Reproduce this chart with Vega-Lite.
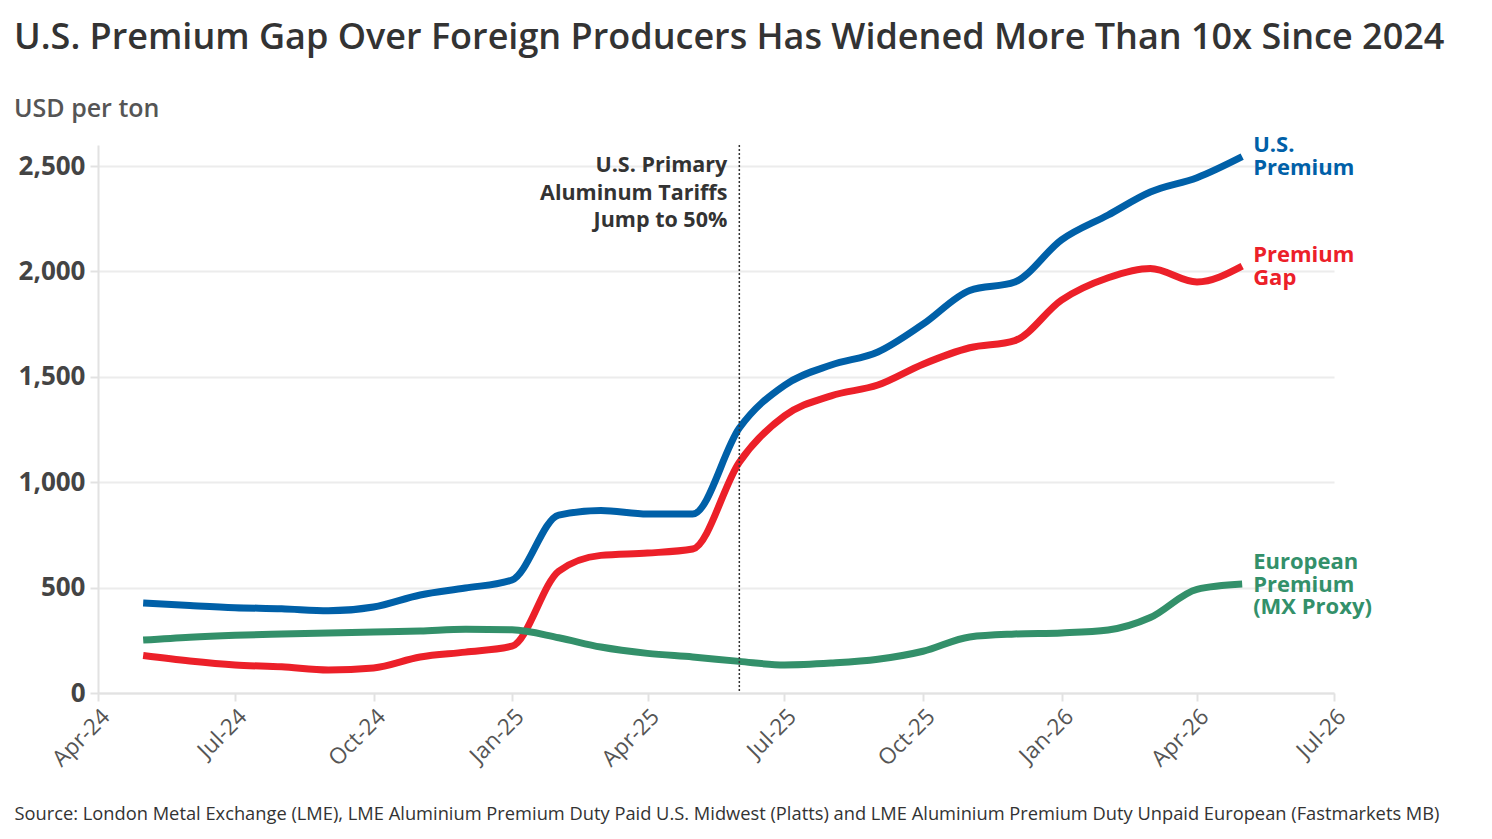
{
  "$schema": "https://vega.github.io/schema/vega-lite/v6.json",
  "autosize": "none",
  "width": 1236,
  "height": 548,
  "padding": {"left": 98, "top": 145, "right": 158, "bottom": 146},
  "background": "white",
  "config": {"view": {"stroke": null}},
  "title": {
    "text": "U.S. Premium Gap Over Foreign Producers Has Widened More Than 10x Since 2024",
    "subtitle": "USD per ton",
    "anchor": "start",
    "frame": "group",
    "dx": -84,
    "offset": 11,
    "font": "Open Sans",
    "fontSize": 36,
    "fontWeight": 600,
    "color": "#333333",
    "subtitleFont": "Open Sans",
    "subtitleFontSize": 25,
    "subtitleFontWeight": 600,
    "subtitleColor": "#555555",
    "subtitlePadding": 40
  },
  "datasets": {
    "prices": [
      {"month": "2024-05-01", "series": "U.S. Premium", "usd": 427},
      {"month": "2024-06-01", "series": "U.S. Premium", "usd": 415},
      {"month": "2024-07-01", "series": "U.S. Premium", "usd": 405},
      {"month": "2024-08-01", "series": "U.S. Premium", "usd": 400},
      {"month": "2024-09-01", "series": "U.S. Premium", "usd": 390},
      {"month": "2024-10-01", "series": "U.S. Premium", "usd": 408},
      {"month": "2024-11-01", "series": "U.S. Premium", "usd": 465},
      {"month": "2024-12-01", "series": "U.S. Premium", "usd": 498},
      {"month": "2025-01-01", "series": "U.S. Premium", "usd": 536},
      {"month": "2025-02-01", "series": "U.S. Premium", "usd": 844},
      {"month": "2025-03-01", "series": "U.S. Premium", "usd": 866},
      {"month": "2025-04-01", "series": "U.S. Premium", "usd": 849},
      {"month": "2025-05-01", "series": "U.S. Premium", "usd": 849},
      {"month": "2025-06-01", "series": "U.S. Premium", "usd": 1257},
      {"month": "2025-07-01", "series": "U.S. Premium", "usd": 1460},
      {"month": "2025-08-01", "series": "U.S. Premium", "usd": 1556},
      {"month": "2025-09-01", "series": "U.S. Premium", "usd": 1618},
      {"month": "2025-10-01", "series": "U.S. Premium", "usd": 1750},
      {"month": "2025-11-01", "series": "U.S. Premium", "usd": 1910},
      {"month": "2025-12-01", "series": "U.S. Premium", "usd": 1950},
      {"month": "2026-01-01", "series": "U.S. Premium", "usd": 2150},
      {"month": "2026-02-01", "series": "U.S. Premium", "usd": 2268},
      {"month": "2026-03-01", "series": "U.S. Premium", "usd": 2377},
      {"month": "2026-04-01", "series": "U.S. Premium", "usd": 2445},
      {"month": "2026-05-01", "series": "U.S. Premium", "usd": 2545},
      {"month": "2024-05-01", "series": "Premium Gap", "usd": 178},
      {"month": "2024-06-01", "series": "Premium Gap", "usd": 152},
      {"month": "2024-07-01", "series": "Premium Gap", "usd": 133},
      {"month": "2024-08-01", "series": "Premium Gap", "usd": 124},
      {"month": "2024-09-01", "series": "Premium Gap", "usd": 109},
      {"month": "2024-10-01", "series": "Premium Gap", "usd": 119},
      {"month": "2024-11-01", "series": "Premium Gap", "usd": 171},
      {"month": "2024-12-01", "series": "Premium Gap", "usd": 194},
      {"month": "2025-01-01", "series": "Premium Gap", "usd": 222},
      {"month": "2025-02-01", "series": "Premium Gap", "usd": 578},
      {"month": "2025-03-01", "series": "Premium Gap", "usd": 653},
      {"month": "2025-04-01", "series": "Premium Gap", "usd": 664},
      {"month": "2025-05-01", "series": "Premium Gap", "usd": 683},
      {"month": "2025-06-01", "series": "Premium Gap", "usd": 1095},
      {"month": "2025-07-01", "series": "Premium Gap", "usd": 1315},
      {"month": "2025-08-01", "series": "Premium Gap", "usd": 1410},
      {"month": "2025-09-01", "series": "Premium Gap", "usd": 1461},
      {"month": "2025-10-01", "series": "Premium Gap", "usd": 1560},
      {"month": "2025-11-01", "series": "Premium Gap", "usd": 1638},
      {"month": "2025-12-01", "series": "Premium Gap", "usd": 1672},
      {"month": "2026-01-01", "series": "Premium Gap", "usd": 1864},
      {"month": "2026-02-01", "series": "Premium Gap", "usd": 1970},
      {"month": "2026-03-01", "series": "Premium Gap", "usd": 2014},
      {"month": "2026-04-01", "series": "Premium Gap", "usd": 1950},
      {"month": "2026-05-01", "series": "Premium Gap", "usd": 2025},
      {"month": "2024-05-01", "series": "European Premium", "usd": 251},
      {"month": "2024-06-01", "series": "European Premium", "usd": 265},
      {"month": "2024-07-01", "series": "European Premium", "usd": 274},
      {"month": "2024-08-01", "series": "European Premium", "usd": 280},
      {"month": "2024-09-01", "series": "European Premium", "usd": 285},
      {"month": "2024-10-01", "series": "European Premium", "usd": 289},
      {"month": "2024-11-01", "series": "European Premium", "usd": 294},
      {"month": "2024-12-01", "series": "European Premium", "usd": 302},
      {"month": "2025-01-01", "series": "European Premium", "usd": 300},
      {"month": "2025-02-01", "series": "European Premium", "usd": 262},
      {"month": "2025-03-01", "series": "European Premium", "usd": 218},
      {"month": "2025-04-01", "series": "European Premium", "usd": 188},
      {"month": "2025-05-01", "series": "European Premium", "usd": 171},
      {"month": "2025-06-01", "series": "European Premium", "usd": 150},
      {"month": "2025-07-01", "series": "European Premium", "usd": 133},
      {"month": "2025-08-01", "series": "European Premium", "usd": 142},
      {"month": "2025-09-01", "series": "European Premium", "usd": 160},
      {"month": "2025-10-01", "series": "European Premium", "usd": 198},
      {"month": "2025-11-01", "series": "European Premium", "usd": 266},
      {"month": "2025-12-01", "series": "European Premium", "usd": 280},
      {"month": "2026-01-01", "series": "European Premium", "usd": 285},
      {"month": "2026-02-01", "series": "European Premium", "usd": 299},
      {"month": "2026-03-01", "series": "European Premium", "usd": 358},
      {"month": "2026-04-01", "series": "European Premium", "usd": 492},
      {"month": "2026-05-01", "series": "European Premium", "usd": 517}
    ],
    "labels": [
      {"series": "U.S. Premium", "label": "U.S.\nPremium"},
      {"series": "Premium Gap", "label": "Premium\nGap"},
      {"series": "European Premium", "label": "European\nPremium\n(MX Proxy)"}
    ],
    "events": [
      {"month": "2025-06-01", "event": "U.S. Primary Aluminum Tariffs Jump to 50%"}
    ]
  },
  "data": {"name": "prices"},
  "encoding": {
    "x": {
      "field": "month",
      "type": "temporal",
      "scale": {
        "type": "utc",
        "domain": [
          {"year": 2024, "month": 4, "date": 1, "utc": true},
          {"year": 2026, "month": 7, "date": 1, "utc": true}
        ]
      },
      "axis": {
        "title": "Source: London Metal Exchange (LME), LME Aluminium Premium Duty Paid U.S. Midwest (Platts) and LME Aluminium Premium Duty Unpaid European (Fastmarkets MB)",
        "titleX": -84,
        "titleY": 121,
        "titleAlign": "left",
        "titleAnchor": "start",
        "titleBaseline": "middle",
        "titleFont": "Open Sans",
        "titleFontSize": 18.3,
        "titleFontWeight": "normal",
        "titleColor": "#333333",
        "values": [
          {"year": 2024, "month": 4, "date": 1, "utc": true},
          {"year": 2024, "month": 7, "date": 1, "utc": true},
          {"year": 2024, "month": 10, "date": 1, "utc": true},
          {"year": 2025, "month": 1, "date": 1, "utc": true},
          {"year": 2025, "month": 4, "date": 1, "utc": true},
          {"year": 2025, "month": 7, "date": 1, "utc": true},
          {"year": 2025, "month": 10, "date": 1, "utc": true},
          {"year": 2026, "month": 1, "date": 1, "utc": true},
          {"year": 2026, "month": 4, "date": 1, "utc": true},
          {"year": 2026, "month": 7, "date": 1, "utc": true}
        ],
        "labelExpr": "utcFormat(datum.value, '%b-%y')",
        "labelAngle": -45,
        "labelFont": "Open Sans",
        "labelFontSize": 22.5,
        "labelColor": "#555555",
        "labelPadding": 4,
        "grid": false,
        "domainColor": "#e2e2e2",
        "domainWidth": 2,
        "tickColor": "#e2e2e2",
        "tickSize": 8,
        "tickWidth": 2
      }
    },
    "y": {
      "field": "usd",
      "type": "quantitative",
      "scale": {"domain": [0, 2600], "nice": false},
      "axis": {
        "title": null,
        "values": [0, 500, 1000, 1500, 2000, 2500],
        "format": ",.0f",
        "labelFont": "Open Sans",
        "labelFontSize": 26,
        "labelFontWeight": "bold",
        "labelColor": "#444444",
        "labelPadding": 5,
        "gridColor": "#ececec",
        "gridWidth": 2,
        "domainColor": "#e2e2e2",
        "domainWidth": 2,
        "tickColor": "#e2e2e2",
        "tickSize": 8,
        "tickWidth": 2
      }
    },
    "color": {
      "field": "series",
      "type": "nominal",
      "scale": {
        "domain": ["U.S. Premium", "Premium Gap", "European Premium"],
        "range": ["#0060a8", "#ec2029", "#33906a"]
      },
      "legend": null
    }
  },
  "layer": [
    {
      "mark": {"type": "line", "interpolate": "monotone", "strokeWidth": 7, "strokeCap": "butt"}
    },
    {
      "transform": [
        {"filter": "utcyear(datum.month) === 2026 && utcmonth(datum.month) === 4 && datum.series !== 'European Premium'"},
        {"lookup": "series", "from": {"data": {"name": "labels"}, "key": "series", "fields": ["label"]}}
      ],
      "mark": {
        "type": "text",
        "align": "left",
        "baseline": "middle",
        "dx": 11,
        "dy": -11.5,
        "lineBreak": "\n",
        "lineHeight": 23,
        "font": "Open Sans",
        "fontSize": 22,
        "fontWeight": "bold"
      },
      "encoding": {"text": {"field": "label"}}
    },
    {
      "transform": [
        {"filter": "utcyear(datum.month) === 2026 && utcmonth(datum.month) === 4 && datum.series === 'European Premium'"},
        {"lookup": "series", "from": {"data": {"name": "labels"}, "key": "series", "fields": ["label"]}}
      ],
      "mark": {
        "type": "text",
        "align": "left",
        "baseline": "middle",
        "dx": 11,
        "dy": -22,
        "lineBreak": "\n",
        "lineHeight": 22.5,
        "font": "Open Sans",
        "fontSize": 22,
        "fontWeight": "bold"
      },
      "encoding": {"text": {"field": "label"}}
    },
    {
      "data": {"name": "events"},
      "mark": {"type": "rule", "color": "#333333", "strokeWidth": 1.5, "strokeDash": [2, 2]},
      "encoding": {
        "x": {"field": "month", "type": "temporal"},
        "y": null,
        "color": null
      }
    },
    {
      "transform": [
        {"filter": "datum.series === 'U.S. Premium' && utcyear(datum.month) === 2025 && utcmonth(datum.month) === 5"}
      ],
      "mark": {
        "type": "text",
        "align": "right",
        "baseline": "middle",
        "dx": -12,
        "lineBreak": "\n",
        "lineHeight": 27.5,
        "font": "Open Sans",
        "fontSize": 21.5,
        "fontWeight": "bold",
        "color": "#333333",
        "text": "U.S. Primary\nAluminum Tariffs\nJump to 50%"
      },
      "encoding": {
        "y": {"datum": 2500, "type": "quantitative"},
        "color": null
      }
    }
  ]
}
